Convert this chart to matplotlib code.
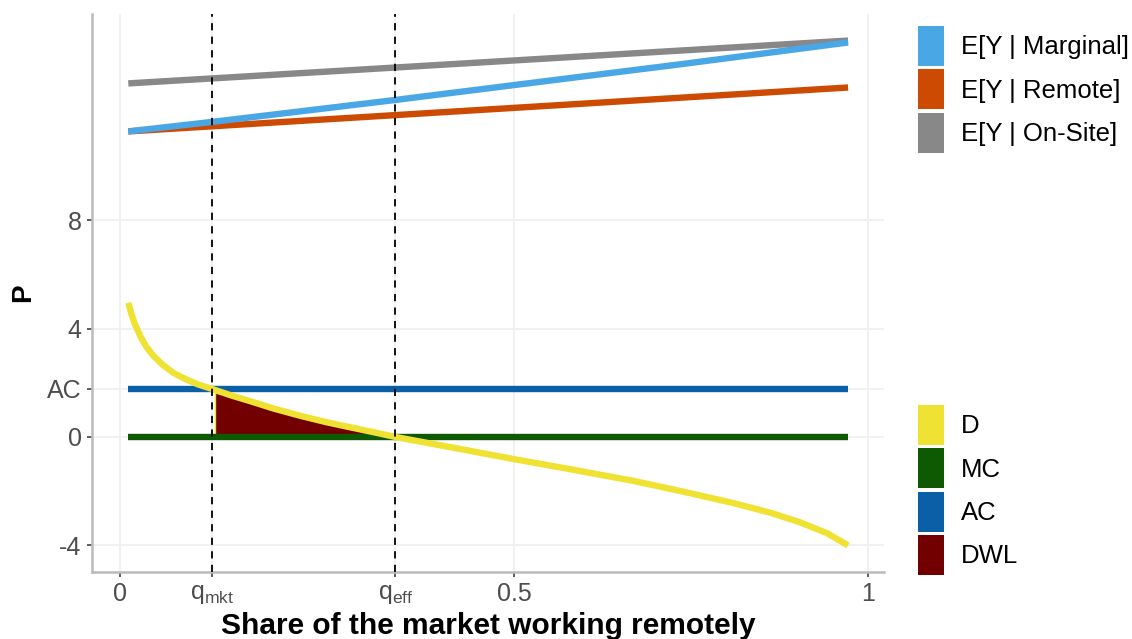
import matplotlib
matplotlib.use("Agg")
import matplotlib.pyplot as plt
import numpy as np
from matplotlib.patches import Patch

plt.rcParams['font.family'] = ['Liberation Sans', 'DejaVu Sans']
plt.rcParams['mathtext.fontset'] = 'custom'
plt.rcParams['mathtext.rm'] = 'Liberation Sans'
plt.rcParams['mathtext.it'] = 'Liberation Sans'

# --- data ---
q_mkt = 0.123
q_eff = 0.368
ac_level = 1.77
x_start, x_end = 0.011, 0.973

# demand curve D
d_x = [0.011, 0.015, 0.020, 0.027, 0.035, 0.045, 0.057, 0.071, 0.087, 0.103,
       0.123, 0.127, 0.150, 0.174, 0.205, 0.241, 0.275, 0.307, 0.340, 0.368,
       0.401, 0.450, 0.527, 0.600, 0.686, 0.750, 0.820, 0.870, 0.909, 0.945, 0.973]
d_y = [4.95, 4.55, 4.15, 3.72, 3.33, 2.98, 2.66, 2.37, 2.14, 1.95,
       1.77, 1.73, 1.52, 1.32, 1.05, 0.78, 0.55, 0.36, 0.17, 0.0,
       -0.17, -0.42, -0.82, -1.18, -1.62, -2.00, -2.44, -2.80, -3.15, -3.55, -4.0]

# expectations
marg_x = [0.011, 0.123, 0.368, 0.527, 0.75, 0.973]
marg_y = [11.27, 11.62, 12.43, 12.98, 13.75, 14.55]
remote_x = [0.011, 0.973]
remote_y = [11.27, 12.89]
onsite_x = [0.011, 0.973]
onsite_y = [13.04, 14.62]

x_ticks = [0, q_mkt, q_eff, 0.527, 1]
x_labels = ['0', r'q$_{\mathrm{mkt}}$', r'q$_{\mathrm{eff}}$', '0.5', '1']
y_ticks = [-4, 0, ac_level, 4, 8]
y_labels = ['-4', '0', 'AC', '4', '8']

col = {'D': '#EFE233', 'MC': '#0E5A02', 'AC': '#0B5FA6', 'DWL': '#730000',
       'marg': '#4AA7E5', 'remote': '#CC4A02', 'onsite': '#888888'}

fig = plt.figure(figsize=(11.32, 6.39), dpi=100)
ax = fig.add_axes([92 / 1132, 1 - 572 / 639, (884 - 92) / 1132, (572 - 14) / 639])

lw = 4.6
# DWL area between D and MC
dx = np.array(d_x)
dy = np.array(d_y)
ax.fill_between(dx, dy, 0, where=(dx >= 0.127) & (dx <= q_eff),
                color=col['DWL'], lw=0, zorder=2)
ax.plot([0.127, 0.127], [0, 1.73], color=col['D'], lw=1, zorder=2)

ax.plot([x_start, x_end], [ac_level, ac_level], color=col['AC'], lw=lw, solid_capstyle='butt', zorder=3)
ax.plot([x_start, x_end], [0, 0], color=col['MC'], lw=lw, solid_capstyle='butt', zorder=3)
ax.plot(d_x, d_y, color=col['D'], lw=lw, solid_capstyle='butt', solid_joinstyle='round', zorder=4)

ax.plot(onsite_x, onsite_y, color=col['onsite'], lw=lw, solid_capstyle='butt', zorder=3)
ax.plot(remote_x, remote_y, color=col['remote'], lw=lw, solid_capstyle='butt', zorder=3)
ax.plot(marg_x, marg_y, color=col['marg'], lw=lw, solid_capstyle='butt', zorder=4)

for q in (q_mkt, q_eff):
    ax.axvline(q, color='black', lw=1.3, ls=(0, (4, 3.5)), zorder=5)

ax.set_xlim(-0.0375, 1.021)
ax.set_ylim(-4.98, 15.6)
ax.set_xticks(x_ticks)
ax.set_xticklabels(x_labels)
ax.set_yticks(y_ticks)
ax.set_yticklabels(y_labels)
ax.tick_params(labelsize=18, labelcolor='#4D4D4D', color='#333333', length=3.5, width=1.1, pad=4)
ax.grid(True, color='#F0F0F0', lw=1.3, zorder=0)
ax.set_axisbelow(True)
for s in ('top', 'right'):
    ax.spines[s].set_visible(False)
for s in ('left', 'bottom'):
    ax.spines[s].set_color('#BBBBBB')
    ax.spines[s].set_linewidth(1.8)

ax.set_xlabel('Share of the market working remotely', fontsize=21.5, fontweight='bold', labelpad=4)
ax.set_ylabel('P', fontsize=20, fontweight='bold', labelpad=8)

fs = 18.5
leg_kw = dict(frameon=False, fontsize=fs, handlelength=1.0, handleheight=2.02,
              labelspacing=0.13, handletextpad=0.66, borderaxespad=0, borderpad=0)
top_handles = [Patch(facecolor=col['marg'], edgecolor='none'),
               Patch(facecolor=col['remote'], edgecolor='none'),
               Patch(facecolor=col['onsite'], edgecolor='none')]
leg1 = fig.legend(top_handles, ['E[Y | Marginal]', 'E[Y | Remote]', 'E[Y | On-Site]'],
                  loc='upper left', bbox_to_anchor=(918 / 1132, 1 - 26 / 639), **leg_kw)
bot_handles = [Patch(facecolor=col['D'], edgecolor='none'),
               Patch(facecolor=col['MC'], edgecolor='none'),
               Patch(facecolor=col['AC'], edgecolor='none'),
               Patch(facecolor=col['DWL'], edgecolor='none')]
leg2 = fig.legend(bot_handles, ['D', 'MC', 'AC', 'DWL'],
                  loc='upper left', bbox_to_anchor=(918 / 1132, 1 - 405 / 639), **leg_kw)

fig.savefig('out.png', dpi=100)
